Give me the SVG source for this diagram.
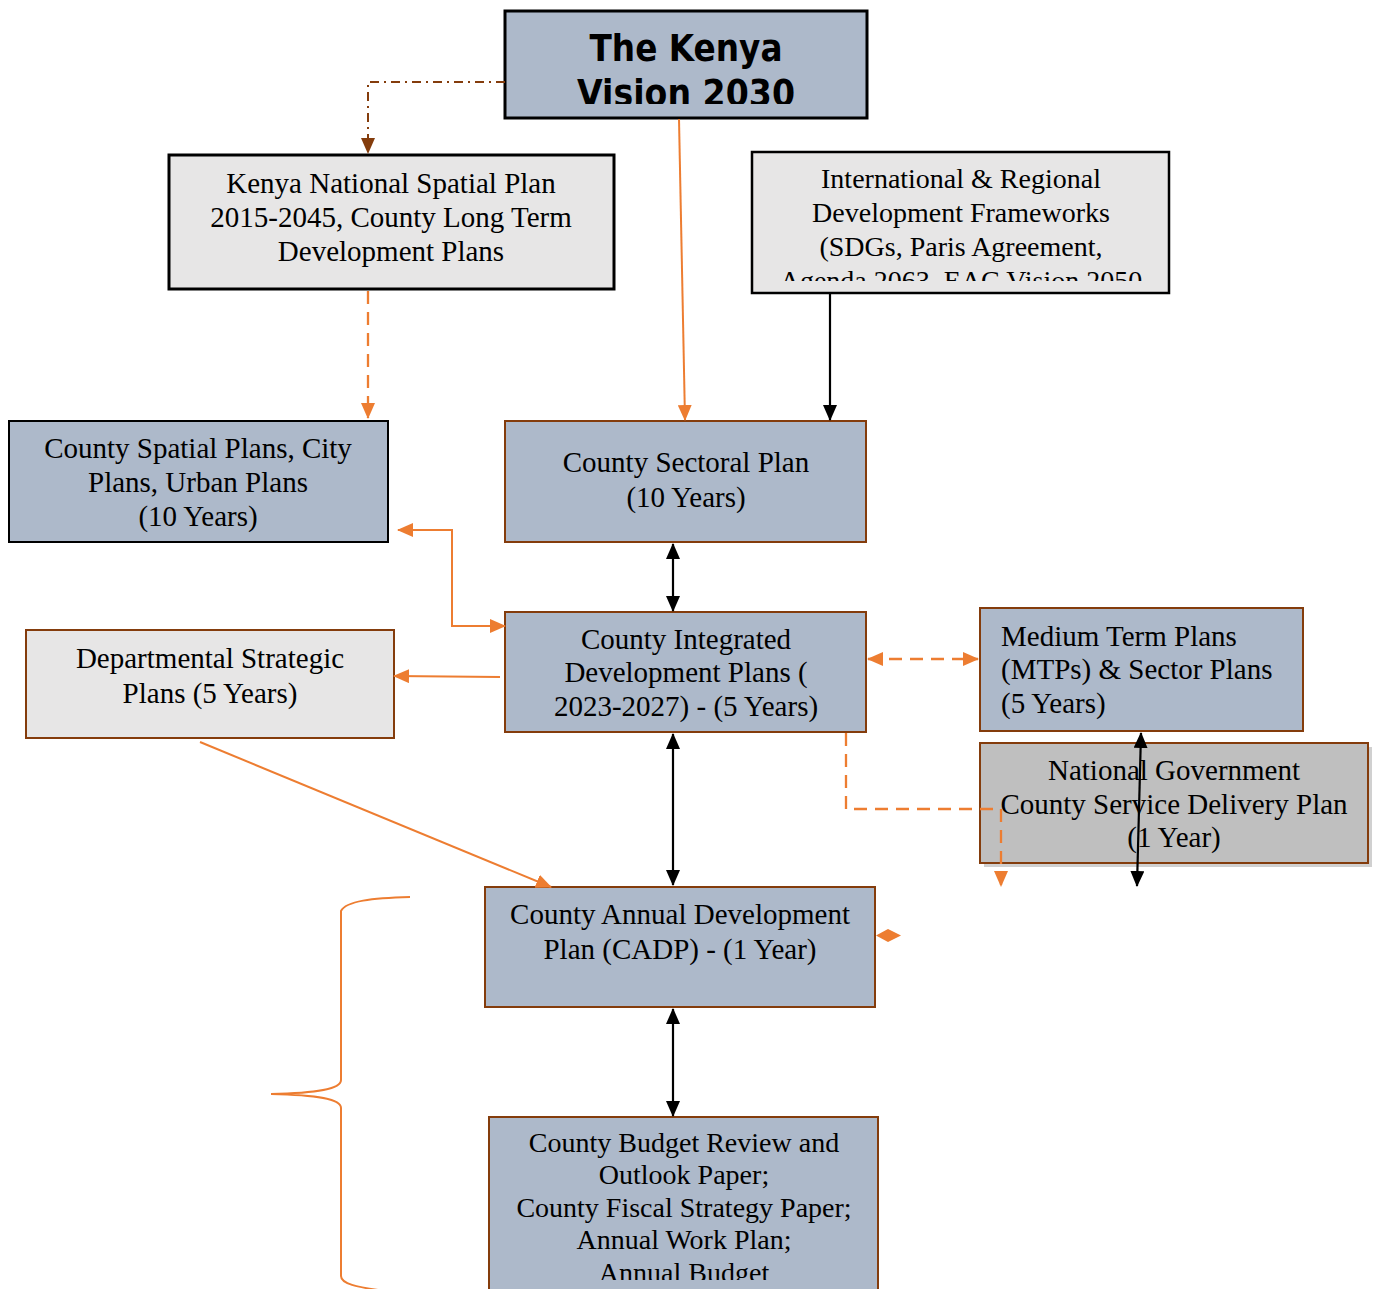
<svg xmlns="http://www.w3.org/2000/svg" width="1377" height="1289" viewBox="0 0 1377 1289">
<style>
.t{font-family:"Liberation Serif","Times New Roman",serif;font-size:29px;fill:#000}
.c{text-anchor:middle}
.blue{fill:#ADB9CA;stroke:#843C0C;stroke-width:2}
.grey{fill:#E7E6E6}
.ko{stroke:#000;stroke-width:3}
.or{fill:none;stroke:#ED7D31;stroke-width:2}
.bk{fill:none;stroke:#000;stroke-width:2.2}
.dash{stroke-dasharray:13 8;stroke-width:2.3}
</style>
<defs>
<marker id="ao" markerUnits="userSpaceOnUse" markerWidth="16" markerHeight="14" viewBox="0 0 16 14" refX="15" refY="7" orient="auto-start-reverse"><path d="M0,0 L16,7 L0,14 Z" fill="#ED7D31"/></marker>
<marker id="ak" markerUnits="userSpaceOnUse" markerWidth="16" markerHeight="14" viewBox="0 0 16 14" refX="15" refY="7" orient="auto-start-reverse"><path d="M0,0 L16,7 L0,14 Z" fill="#000"/></marker>
<marker id="ab" markerUnits="userSpaceOnUse" markerWidth="16" markerHeight="14" viewBox="0 0 16 14" refX="15" refY="7" orient="auto-start-reverse"><path d="M0,0 L16,7 L0,14 Z" fill="#843C0C"/></marker>
<clipPath id="cv"><rect x="505" y="11" width="362" height="93"/></clipPath>
<clipPath id="ci"><rect x="752" y="152" width="417" height="129"/></clipPath>
<clipPath id="cb"><rect x="489" y="1117" width="390" height="163"/></clipPath>
</defs>

<g id="vision">
<rect x="505" y="11" width="362" height="107" fill="#ADB9CA" stroke="#000" stroke-width="3"/>
<g clip-path="url(#cv)" font-family="'DejaVu Sans',Verdana,sans-serif" font-weight="bold" font-size="38" text-anchor="middle">
<text x="686" y="61" textLength="193" lengthAdjust="spacingAndGlyphs">The Kenya</text>
<text x="686" y="106" textLength="218" lengthAdjust="spacingAndGlyphs">Vision 2030</text>
</g>
</g>

<g id="national-spatial">
<rect x="169" y="155" width="445" height="134" class="grey ko"/>
<text class="t c" x="391" y="193">Kenya National Spatial Plan</text>
<text class="t c" x="391" y="227">2015-2045, County Long Term</text>
<text class="t c" x="391" y="261">Development Plans</text>
</g>

<g id="international">
<rect x="752" y="152" width="417" height="141" fill="#E7E6E6" stroke="#000" stroke-width="2.5"/>
<g clip-path="url(#ci)" class="t c" style="font-size:28px">
<text x="961" y="188">International &amp; Regional</text>
<text x="961" y="222">Development Frameworks</text>
<text x="961" y="256">(SDGs, Paris Agreement,</text>
<text x="961" y="290">Agenda 2063, EAC Vision 2050</text>
</g>
</g>

<g id="county-spatial">
<rect x="9" y="421" width="379" height="121" fill="#ADB9CA" stroke="#000" stroke-width="2"/>
<text class="t c" x="198" y="458">County Spatial Plans, City</text>
<text class="t c" x="198" y="492">Plans, Urban Plans</text>
<text class="t c" x="198" y="526">(10 Years)</text>
</g>

<g id="sectoral">
<rect x="505" y="421" width="361" height="121" class="blue"/>
<text class="t c" x="686" y="472">County Sectoral Plan</text>
<text class="t c" x="686" y="507">(10 Years)</text>
</g>

<g id="cidp">
<rect x="505" y="612" width="361" height="120" class="blue"/>
<text class="t c" x="686" y="649">County Integrated</text>
<text class="t c" x="686" y="682">Development Plans (</text>
<text class="t c" x="686" y="716">2023-2027) - (5 Years)</text>
</g>

<g id="departmental">
<rect x="26" y="630" width="368" height="108" fill="#E7E6E6" stroke="#843C0C" stroke-width="2"/>
<text class="t c" x="210" y="668">Departmental Strategic</text>
<text class="t c" x="210" y="703">Plans (5 Years)</text>
</g>

<g id="mtp">
<rect x="980" y="608" width="323" height="123" class="blue"/>
<text class="t" x="1001" y="646">Medium Term Plans</text>
<text class="t" x="1001" y="679">(MTPs) &amp; Sector Plans</text>
<text class="t" x="1001" y="713">(5 Years)</text>
</g>

<g id="national-government">
<rect x="984" y="747" width="388" height="120" fill="#D0D0D0"/>
<rect x="980" y="743" width="388" height="120" fill="#BFBFBF" stroke="#843C0C" stroke-width="2"/>
<text class="t c" x="1174" y="780">National Government</text>
<text class="t c" x="1174" y="814">County Service Delivery Plan</text>
<text class="t c" x="1174" y="847">(1 Year)</text>
</g>

<g id="cadp">
<rect x="485" y="887" width="390" height="120" class="blue"/>
<text class="t c" x="680" y="924">County Annual Development</text>
<text class="t c" x="680" y="959">Plan (CADP) - (1 Year)</text>
</g>

<g id="budget">
<rect x="489" y="1117" width="389" height="180" class="blue"/>
<g clip-path="url(#cb)" class="t c" style="font-size:28px">
<text x="684" y="1152">County Budget Review and</text>
<text x="684" y="1184">Outlook Paper;</text>
<text x="684" y="1217">County Fiscal Strategy Paper;</text>
<text x="684" y="1249">Annual Work Plan;</text>
<text x="684" y="1282">Annual Budget</text>
</g>
</g>

<g id="connectors">
<path d="M505,82 H368 V153" fill="none" stroke="#843C0C" stroke-width="2" stroke-dasharray="9 5 2 5" marker-end="url(#ab)"/>
<path class="or dash" d="M368,291 V418" marker-end="url(#ao)"/>
<path class="or" d="M679,119 L685,420" marker-end="url(#ao)"/>
<path class="bk" d="M830,293 V420" marker-end="url(#ak)"/>
<path class="bk" d="M673,544 V611" marker-start="url(#ak)" marker-end="url(#ak)"/>
<path class="or" d="M398,530 H452 V626 H505" marker-start="url(#ao)" marker-end="url(#ao)"/>
<path class="or" d="M500,677 L394,676" marker-end="url(#ao)"/>
<path class="or dash" d="M868,659 H978" marker-start="url(#ao)" marker-end="url(#ao)"/>
<path class="or dash" d="M846,733 V809 H1001 V886" marker-end="url(#ao)"/>
<path class="bk" d="M1141,733 L1137,886" marker-start="url(#ak)" marker-end="url(#ak)"/>
<path class="or" d="M200,742 L551,887" marker-end="url(#ao)"/>
<path class="bk" d="M673,734 V885" marker-start="url(#ak)" marker-end="url(#ak)"/>
<path class="bk" d="M673,1009 V1116" marker-start="url(#ak)" marker-end="url(#ak)"/>
<path d="M876,935.5 L888,929 L901,935.5 L888,942 Z" fill="#ED7D31"/>
<path class="or" d="M410,897 C372,898 346,901 341,911 L341,1080 C341,1089 318,1093 271,1094 C318,1095 341,1099 341,1108 L341,1276 C341,1284 358,1287 378,1290"/>
</g>
</svg>
